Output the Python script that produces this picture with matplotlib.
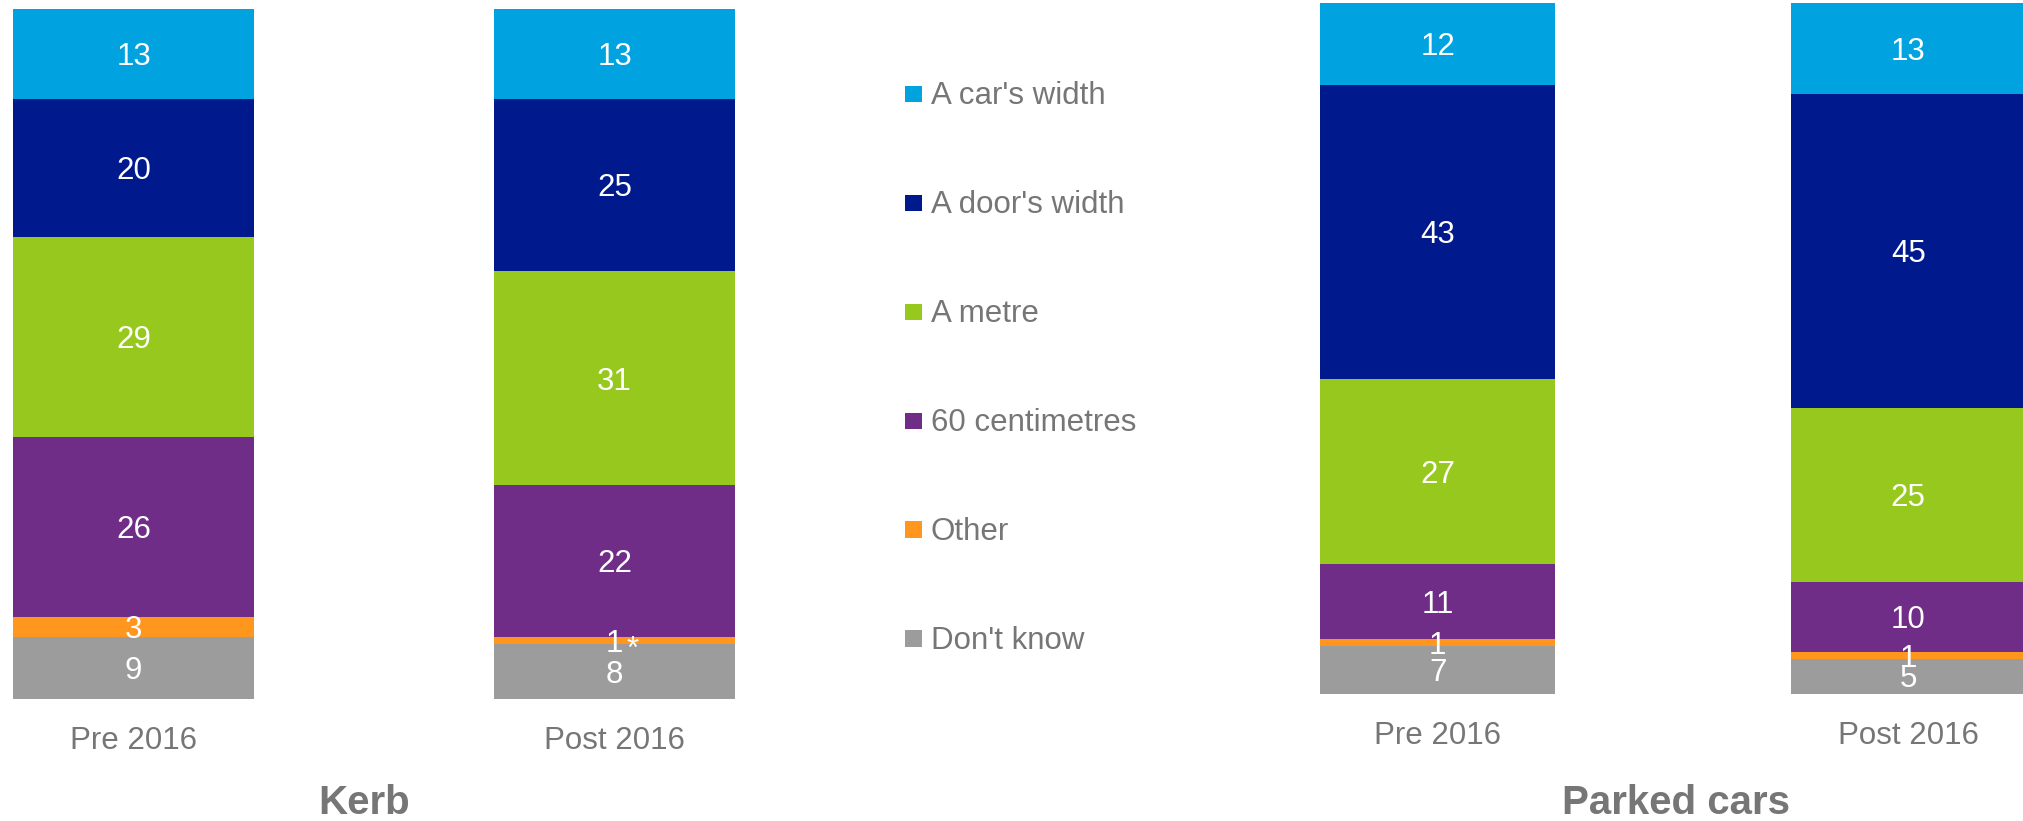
import matplotlib
matplotlib.use("Agg")
import matplotlib.pyplot as plt
from matplotlib.patches import Rectangle

plt.rcParams['font.family'] = ['Liberation Sans', 'DejaVu Sans']

# Answer categories, stacked bottom to top
categories = ["Don't know", "Other", "60 centimetres", "A metre",
              "A door's width", "A car's width"]
colors = ["#9C9C9C", "#FF961E", "#702D88", "#96C81E", "#001A8E", "#00A3E0"]

periods = ["Pre 2016", "Post 2016"]

# Percentages per period (bottom to top, same order as categories)
kerb_pre = [9, 3, 26, 29, 20, 13]
kerb_post = [8, 1, 22, 31, 25, 13]
parked_pre = [7, 1, 11, 27, 43, 12]
parked_post = [5, 1, 10, 25, 45, 13]

panel_titles = ["Kerb", "Parked cars"]
kerb_notes = {(1, "Other"): "*"}

GREY = "#767676"
W, H = 2023, 821
FS = 22.5

fig = plt.figure(figsize=(W / 100, H / 100), dpi=100)


def px_axes(left, top, width, bottom):
    return fig.add_axes([left / W, (H - bottom) / H, width / W, (bottom - top) / H])


def draw_panel(ax, series_by_period, notes=None):
    notes = notes or {}
    for xi, values in enumerate(series_by_period):
        total = float(sum(values))
        base = 0.0
        for cat, val, col in zip(categories, values, colors):
            h = val / total * 100.0
            ax.bar(xi, h, width=0.5, bottom=base, color=col, linewidth=0)
            yc = base + h / 2
            ax.annotate(str(val), (xi, yc), xytext=(0, -0.716 * FS / 2),
                        textcoords="offset points", ha="center", va="baseline",
                        color="white", fontsize=FS)
            if (xi, cat) in notes:
                ax.annotate(notes[(xi, cat)], (xi, yc), xytext=(13, -12.7),
                            textcoords="offset points", ha="center",
                            va="baseline", color="white", fontsize=FS)
            base += h
    ax.set_xlim(-0.25, 1.25)
    ax.set_ylim(0, 100)
    ax.set_xticks(range(len(periods)))
    ax.set_xticklabels(periods, fontsize=FS, color=GREY)
    ax.tick_params(axis="x", length=0, pad=19.4)
    ax.set_yticks([])
    for s in ax.spines.values():
        s.set_visible(False)
    ax.set_facecolor("none")


ax_kerb = px_axes(13.3, 9.3, 721.5, 699.3)
draw_panel(ax_kerb, [kerb_pre, kerb_post], kerb_notes)

ax_park = px_axes(1320.2, 3.0, 705.6, 693.7)
draw_panel(ax_park, [parked_pre, parked_post])

# Panel titles
fig.text(364.3 / W, (H - 814) / H, panel_titles[0], ha="center", va="baseline",
         fontsize=29, fontweight="bold", color=GREY)
fig.text(1676.5 / W, (H - 814) / H, panel_titles[1], ha="center", va="baseline",
         fontsize=29, fontweight="bold", color=GREY)

# Legend, listed top to bottom
for i, (cat, col) in enumerate(zip(categories[::-1], colors[::-1])):
    baseline = 104.3 + i * 108.9
    fig.patches.append(Rectangle((905 / W, (H - baseline + 1.8) / H),
                                 16.7 / W, 16.7 / H, transform=fig.transFigure,
                                 facecolor=col, edgecolor="none"))
    fig.text(930.7 / W, (H - baseline) / H, cat, ha="left", va="baseline",
             fontsize=FS, color=GREY)

fig.savefig("out.png", dpi=100, facecolor="white")
